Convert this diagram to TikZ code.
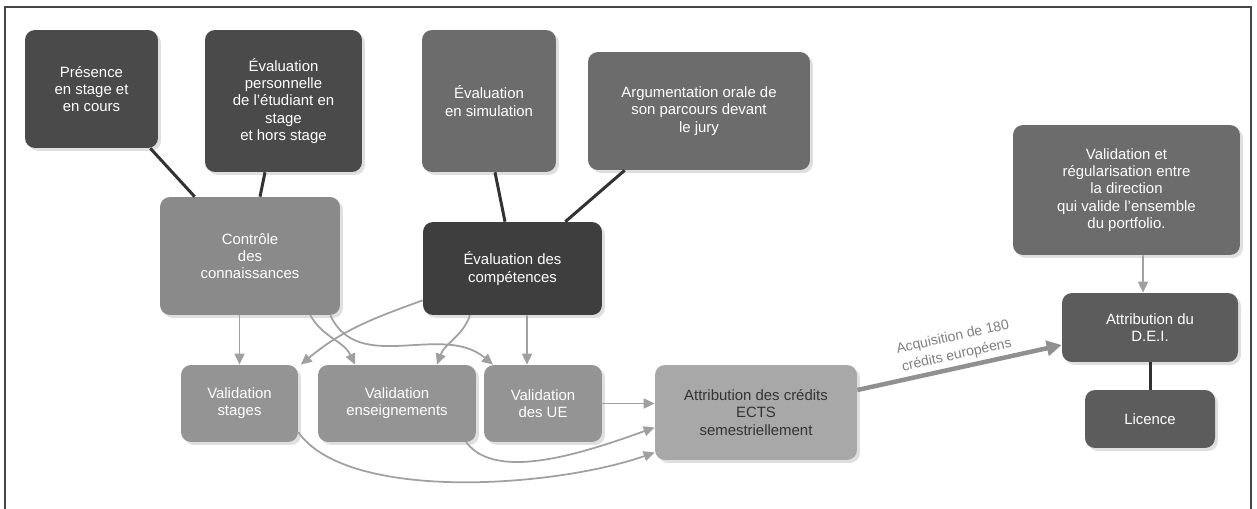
\documentclass[tikz,border=0pt]{standalone}
\usepackage{fontspec}
\setmainfont{Liberation Sans}
\usetikzlibrary{shadows,arrows.meta}
\definecolor{boxdark}{RGB}{74,74,74}
\definecolor{boxdeep}{RGB}{62,62,62}
\definecolor{boxmid}{RGB}{108,108,108}
\definecolor{boxslate}{RGB}{92,92,92}
\definecolor{boxlight}{RGB}{138,138,138}
\definecolor{boxpale}{RGB}{148,148,148}
\definecolor{boxpaler}{RGB}{168,168,168}
\definecolor{linkdark}{RGB}{50,50,50}
\definecolor{flowgrey}{RGB}{160,160,160}
\definecolor{framegrey}{RGB}{70,70,70}
\tikzset{
  box/.style={
    rounded corners=0.2cm,
    text=white,
    align=center,
    inner sep=2pt,
    font=\fontsize{8.5}{9.8}\selectfont,
    drop shadow={opacity=0.25, shadow xshift=0.06cm, shadow yshift=-0.06cm}
  },
  box-dark/.style={box, fill=boxdark},
  box-deep/.style={box, fill=boxdeep},
  box-mid/.style={box, fill=boxmid},
  box-slate/.style={box, fill=boxslate},
  box-light/.style={box, fill=boxlight},
  box-pale/.style={box, fill=boxpale},
  box-paler/.style={box, fill=boxpaler, text=black!80},
  link/.style={line width=0.6mm, draw=linkdark},
  flow/.style={line width=0.35mm, draw=flowgrey, -{Triangle[length=2.2mm, width=2mm]}},
  bigflow/.style={line width=0.9mm, draw=flowgrey!90!black, -{Triangle[length=3mm, width=3mm]}},
  flow-label/.style={text=flowgrey!80!black, align=center, inner sep=1pt, font=\fontsize{8}{10.5}\selectfont}
}

\begin{document}
\begin{tikzpicture}[x=0.02cm, y=-0.02cm]
  \useasboundingbox (0,0) rectangle (1257,509);
  \draw[line width=0.5mm, framegrey] (5,509) -- (5,7) -- (1251,7) -- (1251,509);
  % Top row
  \node[box-dark, minimum width=2.66cm, minimum height=2.36cm] (presence) at (91.5,89)
    {Présence\\en stage et\\en cours};
  \node[box-dark, minimum width=3.14cm, minimum height=2.84cm] (evalperso) at (283.5,101)
    {Évaluation\\personnelle\\de l'étudiant en\\stage\\et hors stage};
  \node[box-mid, minimum width=2.68cm, minimum height=2.84cm] (evalsim) at (489,101)
    {Évaluation\\en simulation};
  \node[box-mid, minimum width=4.44cm, minimum height=2.36cm] (argu) at (699,111)
    {Argumentation orale de\\son parcours devant\\le jury};
  % Middle row
  \node[box-light, minimum width=3.6cm, minimum height=2.36cm] (controle) at (250,256)
    {Contrôle\\des\\connaissances};
  \node[box-deep, minimum width=3.58cm, minimum height=1.86cm] (evalcomp) at (512.5,268.5)
    {Évaluation des\\compétences};
  % Bottom row
  \node[box-pale, minimum width=2.34cm, minimum height=1.54cm] (valstage) at (239.5,403.5)
    {Validation\\stages};
  \node[box-pale, minimum width=3.16cm, minimum height=1.54cm] (valens) at (397,403.5)
    {Validation\\enseignements};
  \node[box-pale, minimum width=2.36cm, minimum height=1.54cm] (value) at (543,403.5)
    {Validation\\des UE};
  \node[box-paler, minimum width=4.04cm, minimum height=1.9cm] (ects) at (756,412.5)
    {Attribution des crédits\\ECTS\\semestriellement};
  % Right column
  \node[box-mid, minimum width=4.54cm, minimum height=2.6cm] (regul) at (1126.5,190)
    {Validation et\\régularisation entre\\la direction\\qui valide l'ensemble\\du portfolio.};
  \node[box-slate, minimum width=3.52cm, minimum height=1.38cm] (dei) at (1150,327.5)
    {Attribution du\\D.E.I.};
  \node[box-slate, minimum width=2.6cm, minimum height=1.16cm] (licence) at (1150,419)
    {Licence};
  % Links
  \draw[link] ([xshift=-0.16cm]presence.south east) -- ([xshift=0.7cm]controle.north west);
  \draw[link] ([xshift=-0.37cm]evalperso.south) -- ([xshift=0.2cm]controle.north);
  \draw[link] ([xshift=0.12cm]evalsim.south) -- ([xshift=-0.15cm]evalcomp.north);
  \draw[link] ([xshift=0.74cm]argu.south west) -- ([xshift=-0.74cm]evalcomp.north east);
  \draw[link] (dei.south) -- (licence.north);
  % Flows
  \draw[flow] (controle.south -| valstage.north) -- (valstage.north);
  \draw[flow] ([xshift=-0.6cm]controle.south east) to[out=-60, in=115] ([xshift=-0.84cm]valens.north);
  \draw[flow] ([xshift=-0.2cm]controle.south east) to[out=-65, in=140] ([xshift=-1cm]value.north);
  \draw[flow] ([yshift=0.3cm]evalcomp.south west) to[out=200, in=40] ([xshift=0.05cm]valstage.north east);
  \draw[flow] ([xshift=-0.85cm]evalcomp.south) to[out=-110, in=70] ([xshift=0.8cm]valens.north);
  \draw[flow] ([xshift=0.29cm]evalcomp.south) -- ([xshift=-0.32cm]value.north);
  \draw[flow] (value.east) -- (ects.west |- value.east);
  \draw[flow] ([xshift=-0.2cm]valens.south east) .. controls +(30,40) and +(-70,25) .. ([yshift=-0.3cm]ects.west);
  \draw[flow] ([yshift=0.2cm]valstage.south east) .. controls +(50,70) and +(-100,35) .. ([yshift=-0.8cm]ects.west);
  \draw[flow] ([xshift=0.33cm]regul.south) -- ([xshift=-0.14cm]dei.north);
  \draw[bigflow] ([yshift=0.45cm]ects.east) -- ([yshift=-0.35cm]dei.west)
    node[flow-label, midway, above=1pt, sloped] {Acquisition de 180\\crédits européens};

\end{tikzpicture}
\end{document}
